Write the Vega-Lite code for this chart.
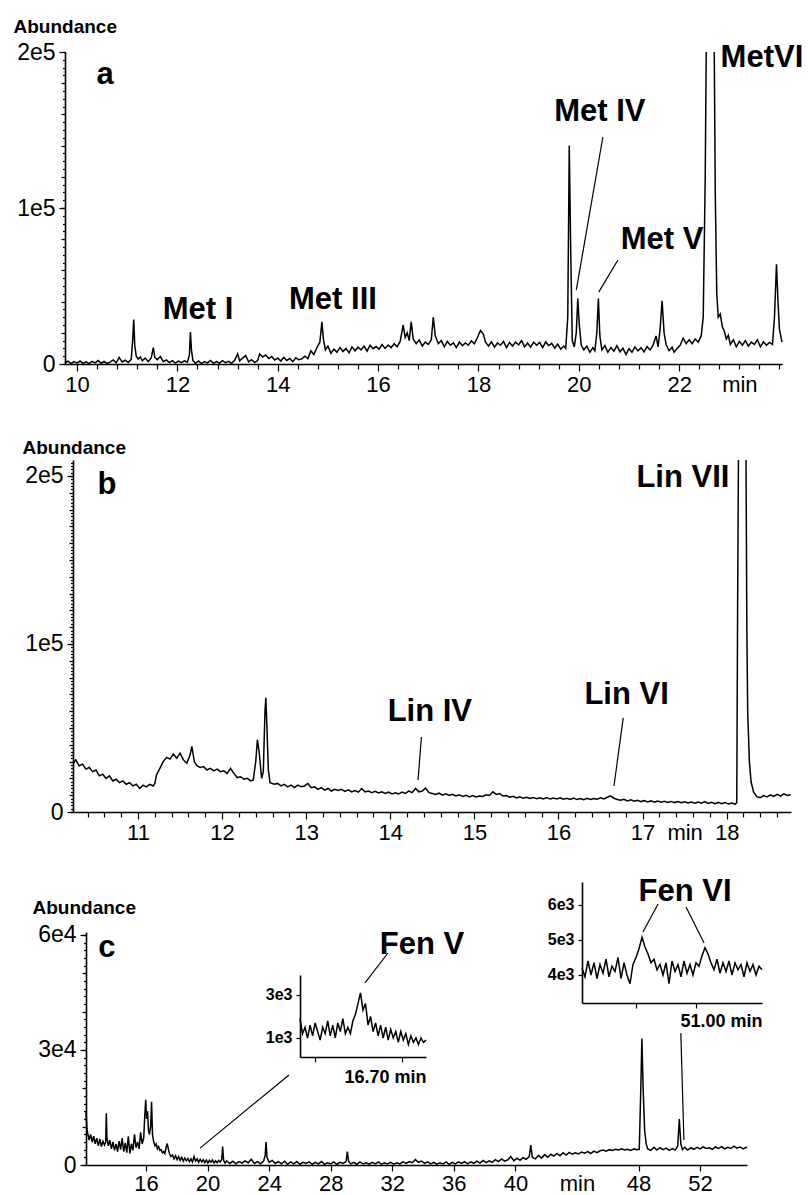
{
"$schema": "https://vega.github.io/schema/vega-lite/v6.json",
"width": 808, "height": 1195,
"autosize": {"type": "none"},
"padding": 0,
"background": "white",
"config": {
 "view": {"stroke": null},
 "axis": {"grid": false, "domainColor": "black", "tickColor": "black", "labelColor": "black", "titleColor": "black", "labelFont": "Liberation Sans", "titleFont": "Liberation Sans", "domainWidth": 1.6, "tickWidth": 1.2},
 "text": {"font": "Liberation Sans", "fontWeight": "bold", "fontSize": 31, "color": "black"},
 "line": {"color": "black", "strokeWidth": 1.5},
 "rule": {"color": "black", "strokeWidth": 1.2}
},
"resolve": {"scale": {"x": "independent", "y": "independent"}, "axis": {"x": "independent", "y": "independent"}},
"datasets": {
 "a_trace": [
  {"time":9.76,"signal":800},{"time":9.82,"signal":1800},{"time":9.88,"signal":300},{"time":9.94,"signal":1500},{"time":10.0,"signal":600},{"time":10.06,"signal":1900},{"time":10.12,"signal":400},{"time":10.18,"signal":1400},{"time":10.24,"signal":200},{"time":10.3,"signal":1700},{"time":10.36,"signal":700},{"time":10.42,"signal":2200},{"time":10.48,"signal":500},{"time":10.54,"signal":1600},{"time":10.6,"signal":300},{"time":10.66,"signal":1200},{"time":10.72,"signal":2600},{"time":10.78,"signal":800},{"time":10.84,"signal":4200},{"time":10.9,"signal":1300},{"time":10.96,"signal":2400},{"time":11.02,"signal":900},{"time":11.08,"signal":3000},{"time":11.11,"signal":16000},{"time":11.13,"signal":28500},{"time":11.15,"signal":12000},{"time":11.18,"signal":5000},{"time":11.22,"signal":3200},{"time":11.26,"signal":4500},{"time":11.3,"signal":2000},{"time":11.36,"signal":3800},{"time":11.42,"signal":1500},{"time":11.48,"signal":4000},{"time":11.52,"signal":10500},{"time":11.55,"signal":4200},{"time":11.6,"signal":2800},{"time":11.66,"signal":4800},{"time":11.72,"signal":1500},{"time":11.78,"signal":2600},{"time":11.84,"signal":900},{"time":11.9,"signal":2200},{"time":11.96,"signal":600},{"time":12.02,"signal":1800},{"time":12.08,"signal":800},{"time":12.14,"signal":2000},{"time":12.2,"signal":1100},{"time":12.24,"signal":6000},{"time":12.26,"signal":20500},{"time":12.28,"signal":9000},{"time":12.31,"signal":2200},{"time":12.36,"signal":500},{"time":12.42,"signal":2000},{"time":12.48,"signal":300},{"time":12.54,"signal":1600},{"time":12.6,"signal":700},{"time":12.66,"signal":2300},{"time":12.72,"signal":400},{"time":12.78,"signal":1500},{"time":12.84,"signal":600},{"time":12.9,"signal":2100},{"time":12.96,"signal":800},{"time":13.02,"signal":1700},{"time":13.08,"signal":500},{"time":13.14,"signal":2400},{"time":13.2,"signal":6500},{"time":13.24,"signal":2000},{"time":13.3,"signal":3800},{"time":13.36,"signal":5500},{"time":13.42,"signal":1400},{"time":13.48,"signal":2800},{"time":13.54,"signal":1000},{"time":13.6,"signal":2200},{"time":13.64,"signal":6500},{"time":13.7,"signal":4500},{"time":13.76,"signal":5800},{"time":13.82,"signal":3500},{"time":13.88,"signal":4800},{"time":13.94,"signal":2500},{"time":14.0,"signal":3800},{"time":14.06,"signal":1900},{"time":14.12,"signal":4200},{"time":14.18,"signal":2300},{"time":14.24,"signal":3600},{"time":14.3,"signal":1500},{"time":14.36,"signal":4000},{"time":14.42,"signal":2700},{"time":14.48,"signal":3300},{"time":14.54,"signal":5000},{"time":14.6,"signal":3400},{"time":14.66,"signal":8500},{"time":14.72,"signal":6000},{"time":14.78,"signal":10500},{"time":14.84,"signal":14000},{"time":14.88,"signal":27000},{"time":14.91,"signal":16000},{"time":14.95,"signal":9000},{"time":15.0,"signal":11500},{"time":15.06,"signal":6800},{"time":15.12,"signal":9500},{"time":15.18,"signal":7500},{"time":15.24,"signal":10500},{"time":15.3,"signal":8000},{"time":15.36,"signal":10000},{"time":15.42,"signal":7200},{"time":15.48,"signal":11000},{"time":15.54,"signal":8500},{"time":15.6,"signal":10800},{"time":15.66,"signal":9000},{"time":15.72,"signal":11500},{"time":15.78,"signal":8200},{"time":15.84,"signal":12000},{"time":15.9,"signal":9800},{"time":15.96,"signal":11200},{"time":16.02,"signal":9500},{"time":16.08,"signal":12500},{"time":16.14,"signal":10000},{"time":16.2,"signal":12200},{"time":16.26,"signal":10500},{"time":16.32,"signal":13000},{"time":16.38,"signal":11000},{"time":16.44,"signal":14500},{"time":16.5,"signal":25000},{"time":16.54,"signal":17000},{"time":16.58,"signal":20000},{"time":16.62,"signal":15000},{"time":16.66,"signal":27000},{"time":16.7,"signal":16000},{"time":16.76,"signal":13000},{"time":16.82,"signal":15500},{"time":16.88,"signal":11500},{"time":16.94,"signal":14000},{"time":17.0,"signal":12500},{"time":17.06,"signal":15500},{"time":17.1,"signal":30000},{"time":17.14,"signal":18000},{"time":17.2,"signal":13000},{"time":17.26,"signal":15000},{"time":17.32,"signal":11000},{"time":17.38,"signal":14500},{"time":17.44,"signal":12000},{"time":17.5,"signal":13500},{"time":17.56,"signal":10500},{"time":17.62,"signal":14000},{"time":17.68,"signal":11800},{"time":17.74,"signal":13500},{"time":17.8,"signal":12000},{"time":17.86,"signal":14800},{"time":17.92,"signal":13000},{"time":17.98,"signal":17000},{"time":18.04,"signal":21500},{"time":18.1,"signal":19000},{"time":18.14,"signal":14000},{"time":18.2,"signal":11500},{"time":18.26,"signal":14200},{"time":18.32,"signal":10800},{"time":18.38,"signal":13500},{"time":18.44,"signal":12000},{"time":18.5,"signal":14500},{"time":18.56,"signal":10500},{"time":18.62,"signal":13800},{"time":18.68,"signal":11500},{"time":18.74,"signal":14000},{"time":18.8,"signal":12200},{"time":18.86,"signal":15000},{"time":18.92,"signal":11000},{"time":18.98,"signal":13500},{"time":19.04,"signal":10800},{"time":19.1,"signal":14000},{"time":19.16,"signal":12000},{"time":19.22,"signal":13800},{"time":19.28,"signal":10500},{"time":19.34,"signal":14200},{"time":19.4,"signal":11800},{"time":19.46,"signal":13200},{"time":19.52,"signal":10200},{"time":19.58,"signal":12800},{"time":19.64,"signal":9500},{"time":19.7,"signal":11500},{"time":19.74,"signal":10000},{"time":19.78,"signal":30000},{"time":19.81,"signal":140000},{"time":19.84,"signal":70000},{"time":19.87,"signal":15000},{"time":19.91,"signal":11000},{"time":19.95,"signal":20000},{"time":19.98,"signal":42000},{"time":20.01,"signal":25000},{"time":20.05,"signal":12000},{"time":20.1,"signal":9000},{"time":20.16,"signal":11500},{"time":20.22,"signal":7500},{"time":20.28,"signal":10500},{"time":20.32,"signal":8500},{"time":20.36,"signal":20000},{"time":20.39,"signal":42000},{"time":20.42,"signal":18000},{"time":20.46,"signal":9000},{"time":20.52,"signal":11800},{"time":20.58,"signal":7500},{"time":20.64,"signal":10500},{"time":20.7,"signal":8200},{"time":20.76,"signal":11800},{"time":20.82,"signal":7800},{"time":20.88,"signal":10200},{"time":20.94,"signal":6000},{"time":21.0,"signal":9800},{"time":21.06,"signal":7500},{"time":21.12,"signal":11000},{"time":21.18,"signal":8400},{"time":21.24,"signal":10500},{"time":21.3,"signal":7800},{"time":21.36,"signal":11200},{"time":21.42,"signal":9000},{"time":21.48,"signal":12000},{"time":21.54,"signal":18000},{"time":21.58,"signal":11000},{"time":21.62,"signal":22000},{"time":21.66,"signal":40500},{"time":21.7,"signal":20000},{"time":21.74,"signal":12500},{"time":21.8,"signal":8500},{"time":21.86,"signal":10800},{"time":21.9,"signal":7500},{"time":21.96,"signal":10000},{"time":22.02,"signal":12000},{"time":22.08,"signal":16500},{"time":22.14,"signal":13000},{"time":22.2,"signal":15500},{"time":22.26,"signal":13000},{"time":22.32,"signal":16000},{"time":22.38,"signal":14000},{"time":22.44,"signal":18000},{"time":22.48,"signal":30000},{"time":22.52,"signal":120000},{"time":22.54,"signal":200000},{"time":22.62,"signal":null},{"time":22.7,"signal":200000},{"time":22.72,"signal":110000},{"time":22.75,"signal":45000},{"time":22.78,"signal":30000},{"time":22.82,"signal":32000},{"time":22.86,"signal":24000},{"time":22.9,"signal":21000},{"time":22.94,"signal":16000},{"time":22.98,"signal":18500},{"time":23.02,"signal":12500},{"time":23.08,"signal":15500},{"time":23.14,"signal":11000},{"time":23.2,"signal":14500},{"time":23.26,"signal":12000},{"time":23.32,"signal":15000},{"time":23.38,"signal":11500},{"time":23.44,"signal":14000},{"time":23.5,"signal":12500},{"time":23.56,"signal":15500},{"time":23.62,"signal":11000},{"time":23.68,"signal":14200},{"time":23.74,"signal":12000},{"time":23.8,"signal":13800},{"time":23.86,"signal":12500},{"time":23.9,"signal":30000},{"time":23.94,"signal":64000},{"time":23.97,"signal":40000},{"time":24.0,"signal":22000},{"time":24.05,"signal":14000}
 ],
 "a_labels": [
  {"time":10.56,"signal":185000,"label":"a"},{"time":12.41,"signal":34600,"label":"Met I"},{"time":15.1,"signal":41000,"label":"Met III"},{"time":20.42,"signal":161500,"label":"Met IV"},{"time":21.66,"signal":79500,"label":"Met V"},{"time":23.65,"signal":196000,"label":"MetVI"}
 ],
 "a_leaders": [
  {"time":20.48,"signal":145500,"time2":19.95,"signal2":47400},{"time":20.78,"signal":66700,"time2":20.4,"signal2":46200}
 ],
 "b_trace": [
  {"time":10.23,"signal":29000},{"time":10.26,"signal":31000},{"time":10.3,"signal":27500},{"time":10.34,"signal":28500},{"time":10.38,"signal":25500},{"time":10.42,"signal":26500},{"time":10.46,"signal":24000},{"time":10.5,"signal":25000},{"time":10.54,"signal":21500},{"time":10.58,"signal":22500},{"time":10.62,"signal":20000},{"time":10.66,"signal":21500},{"time":10.7,"signal":18500},{"time":10.74,"signal":19500},{"time":10.78,"signal":17500},{"time":10.82,"signal":18500},{"time":10.86,"signal":16500},{"time":10.9,"signal":17500},{"time":10.94,"signal":15500},{"time":10.98,"signal":16500},{"time":11.02,"signal":14000},{"time":11.06,"signal":16000},{"time":11.1,"signal":15000},{"time":11.14,"signal":16500},{"time":11.18,"signal":15500},{"time":11.2,"signal":17000},{"time":11.22,"signal":22000},{"time":11.26,"signal":26000},{"time":11.3,"signal":30000},{"time":11.34,"signal":32500},{"time":11.38,"signal":31500},{"time":11.42,"signal":34500},{"time":11.46,"signal":32000},{"time":11.5,"signal":35000},{"time":11.54,"signal":31000},{"time":11.58,"signal":29000},{"time":11.62,"signal":34000},{"time":11.64,"signal":39000},{"time":11.67,"signal":30000},{"time":11.7,"signal":27500},{"time":11.74,"signal":26500},{"time":11.78,"signal":27000},{"time":11.82,"signal":25000},{"time":11.86,"signal":26000},{"time":11.9,"signal":24500},{"time":11.94,"signal":25500},{"time":11.98,"signal":24000},{"time":12.02,"signal":24500},{"time":12.06,"signal":23000},{"time":12.1,"signal":26000},{"time":12.14,"signal":23000},{"time":12.18,"signal":20500},{"time":12.22,"signal":21000},{"time":12.26,"signal":19500},{"time":12.3,"signal":20000},{"time":12.34,"signal":18500},{"time":12.37,"signal":19000},{"time":12.4,"signal":30000},{"time":12.42,"signal":43000},{"time":12.44,"signal":36000},{"time":12.47,"signal":20000},{"time":12.49,"signal":24000},{"time":12.51,"signal":60000},{"time":12.52,"signal":68000},{"time":12.53,"signal":55000},{"time":12.55,"signal":25000},{"time":12.57,"signal":17500},{"time":12.62,"signal":16500},{"time":12.66,"signal":17000},{"time":12.7,"signal":15500},{"time":12.74,"signal":16500},{"time":12.78,"signal":15000},{"time":12.82,"signal":16000},{"time":12.86,"signal":14500},{"time":12.9,"signal":16000},{"time":12.94,"signal":15000},{"time":12.98,"signal":15500},{"time":13.02,"signal":17000},{"time":13.06,"signal":14500},{"time":13.1,"signal":15000},{"time":13.14,"signal":13500},{"time":13.18,"signal":14500},{"time":13.22,"signal":13000},{"time":13.26,"signal":14000},{"time":13.3,"signal":12500},{"time":13.34,"signal":13500},{"time":13.38,"signal":12800},{"time":13.42,"signal":13500},{"time":13.46,"signal":12300},{"time":13.5,"signal":13200},{"time":13.54,"signal":12000},{"time":13.58,"signal":12800},{"time":13.62,"signal":11800},{"time":13.66,"signal":14000},{"time":13.7,"signal":12000},{"time":13.74,"signal":12500},{"time":13.78,"signal":11500},{"time":13.82,"signal":12300},{"time":13.86,"signal":11300},{"time":13.9,"signal":12000},{"time":13.94,"signal":11000},{"time":13.98,"signal":11800},{"time":14.02,"signal":10800},{"time":14.06,"signal":11500},{"time":14.1,"signal":10800},{"time":14.14,"signal":11800},{"time":14.18,"signal":11000},{"time":14.22,"signal":12500},{"time":14.26,"signal":11500},{"time":14.3,"signal":14000},{"time":14.34,"signal":12000},{"time":14.38,"signal":12500},{"time":14.42,"signal":14200},{"time":14.46,"signal":11500},{"time":14.5,"signal":11000},{"time":14.54,"signal":10500},{"time":14.58,"signal":11200},{"time":14.62,"signal":10000},{"time":14.66,"signal":10800},{"time":14.7,"signal":9800},{"time":14.74,"signal":10500},{"time":14.78,"signal":9500},{"time":14.82,"signal":10200},{"time":14.86,"signal":9300},{"time":14.9,"signal":10000},{"time":14.94,"signal":9000},{"time":14.98,"signal":9800},{"time":15.02,"signal":9000},{"time":15.06,"signal":9500},{"time":15.1,"signal":9200},{"time":15.14,"signal":10200},{"time":15.18,"signal":9800},{"time":15.22,"signal":12000},{"time":15.26,"signal":10500},{"time":15.3,"signal":11000},{"time":15.34,"signal":9500},{"time":15.38,"signal":9800},{"time":15.42,"signal":8800},{"time":15.46,"signal":9300},{"time":15.5,"signal":8400},{"time":15.54,"signal":9000},{"time":15.58,"signal":8200},{"time":15.62,"signal":8800},{"time":15.66,"signal":8000},{"time":15.7,"signal":8600},{"time":15.74,"signal":7900},{"time":15.78,"signal":8500},{"time":15.82,"signal":7800},{"time":15.86,"signal":8600},{"time":15.9,"signal":7700},{"time":15.94,"signal":8300},{"time":15.98,"signal":7800},{"time":16.02,"signal":8500},{"time":16.06,"signal":7600},{"time":16.1,"signal":8200},{"time":16.14,"signal":7500},{"time":16.18,"signal":8300},{"time":16.22,"signal":7400},{"time":16.26,"signal":8000},{"time":16.3,"signal":7300},{"time":16.34,"signal":8200},{"time":16.38,"signal":7500},{"time":16.42,"signal":8000},{"time":16.46,"signal":7600},{"time":16.5,"signal":8400},{"time":16.54,"signal":7800},{"time":16.58,"signal":8800},{"time":16.62,"signal":9600},{"time":16.66,"signal":8200},{"time":16.7,"signal":7400},{"time":16.74,"signal":7000},{"time":16.78,"signal":7600},{"time":16.82,"signal":6600},{"time":16.86,"signal":7200},{"time":16.9,"signal":6400},{"time":16.94,"signal":7000},{"time":16.98,"signal":6200},{"time":17.02,"signal":6800},{"time":17.06,"signal":6000},{"time":17.1,"signal":6600},{"time":17.14,"signal":5900},{"time":17.18,"signal":6500},{"time":17.22,"signal":5800},{"time":17.26,"signal":6400},{"time":17.3,"signal":5700},{"time":17.34,"signal":6300},{"time":17.38,"signal":5600},{"time":17.42,"signal":6200},{"time":17.46,"signal":5500},{"time":17.5,"signal":6100},{"time":17.54,"signal":5400},{"time":17.58,"signal":6000},{"time":17.62,"signal":5300},{"time":17.66,"signal":5900},{"time":17.7,"signal":5200},{"time":17.74,"signal":6200},{"time":17.78,"signal":5100},{"time":17.82,"signal":5800},{"time":17.86,"signal":5000},{"time":17.9,"signal":5700},{"time":17.94,"signal":4900},{"time":17.98,"signal":5600},{"time":18.02,"signal":4800},{"time":18.06,"signal":5400},{"time":18.1,"signal":4600},{"time":18.12,"signal":5500},{"time":18.13,"signal":120000},{"time":18.14,"signal":209500},{"time":18.18,"signal":null},{"time":18.23,"signal":209500},{"time":18.24,"signal":110000},{"time":18.25,"signal":60000},{"time":18.27,"signal":30000},{"time":18.29,"signal":18000},{"time":18.32,"signal":12000},{"time":18.36,"signal":9000},{"time":18.4,"signal":8500},{"time":18.44,"signal":9800},{"time":18.48,"signal":9000},{"time":18.52,"signal":10200},{"time":18.56,"signal":9300},{"time":18.6,"signal":10500},{"time":18.64,"signal":9500},{"time":18.68,"signal":10800},{"time":18.72,"signal":9800},{"time":18.76,"signal":10300}
 ],
 "b_labels": [
  {"time":10.63,"signal":194600,"label":"b"},{"time":17.48,"signal":198800,"label":"Lin VII"},{"time":14.47,"signal":59500,"label":"Lin IV"},{"time":16.81,"signal":69600,"label":"Lin VI"}
 ],
 "b_leaders": [
  {"time":14.37,"signal":44600,"time2":14.33,"signal2":19000},{"time":16.77,"signal":56000,"time2":16.66,"signal2":15500}
 ],
 "c_trace": [
  {"time":12.1,"signal":14000},{"time":12.15,"signal":10000},{"time":12.2,"signal":8500},{"time":12.3,"signal":6500},{"time":12.4,"signal":8000},{"time":12.5,"signal":6000},{"time":12.6,"signal":7500},{"time":12.7,"signal":5500},{"time":12.8,"signal":7000},{"time":12.9,"signal":5000},{"time":13.0,"signal":6800},{"time":13.1,"signal":4800},{"time":13.2,"signal":6200},{"time":13.3,"signal":5200},{"time":13.38,"signal":6000},{"time":13.42,"signal":13500},{"time":13.46,"signal":7000},{"time":13.55,"signal":5000},{"time":13.65,"signal":6500},{"time":13.75,"signal":4200},{"time":13.85,"signal":6000},{"time":13.95,"signal":3800},{"time":14.05,"signal":5500},{"time":14.15,"signal":3500},{"time":14.25,"signal":6200},{"time":14.35,"signal":4000},{"time":14.45,"signal":7000},{"time":14.55,"signal":3500},{"time":14.65,"signal":5800},{"time":14.75,"signal":3200},{"time":14.85,"signal":7500},{"time":14.95,"signal":3000},{"time":15.05,"signal":5500},{"time":15.15,"signal":3800},{"time":15.25,"signal":8000},{"time":15.35,"signal":4500},{"time":15.45,"signal":6000},{"time":15.55,"signal":4200},{"time":15.65,"signal":8500},{"time":15.75,"signal":5500},{"time":15.85,"signal":7000},{"time":15.92,"signal":13000},{"time":15.98,"signal":17000},{"time":16.04,"signal":12000},{"time":16.1,"signal":14000},{"time":16.16,"signal":9000},{"time":16.22,"signal":8000},{"time":16.3,"signal":10000},{"time":16.36,"signal":16500},{"time":16.42,"signal":8000},{"time":16.5,"signal":6000},{"time":16.58,"signal":5000},{"time":16.66,"signal":5500},{"time":16.74,"signal":4200},{"time":16.82,"signal":4800},{"time":16.9,"signal":3800},{"time":16.98,"signal":4000},{"time":17.06,"signal":3200},{"time":17.14,"signal":3500},{"time":17.22,"signal":3000},{"time":17.3,"signal":4500},{"time":17.38,"signal":5600},{"time":17.46,"signal":4000},{"time":17.54,"signal":2800},{"time":17.62,"signal":2200},{"time":17.72,"signal":2600},{"time":17.82,"signal":1600},{"time":17.92,"signal":2400},{"time":18.02,"signal":1400},{"time":18.12,"signal":2200},{"time":18.22,"signal":1200},{"time":18.32,"signal":2000},{"time":18.42,"signal":1000},{"time":18.52,"signal":1800},{"time":18.62,"signal":1100},{"time":18.72,"signal":1700},{"time":18.82,"signal":900},{"time":18.92,"signal":1600},{"time":19.02,"signal":800},{"time":19.12,"signal":2200},{"time":19.22,"signal":1000},{"time":19.32,"signal":1600},{"time":19.42,"signal":700},{"time":19.52,"signal":1500},{"time":19.62,"signal":800},{"time":19.72,"signal":1400},{"time":19.82,"signal":600},{"time":19.92,"signal":1300},{"time":20.02,"signal":500},{"time":20.12,"signal":1200},{"time":20.22,"signal":700},{"time":20.32,"signal":1300},{"time":20.42,"signal":500},{"time":20.52,"signal":1100},{"time":20.62,"signal":600},{"time":20.72,"signal":1200},{"time":20.82,"signal":800},{"time":20.92,"signal":1500},{"time":20.98,"signal":4800},{"time":21.04,"signal":1200},{"time":21.14,"signal":500},{"time":21.24,"signal":1100},{"time":21.44,"signal":400},{"time":21.64,"signal":1000},{"time":21.84,"signal":300},{"time":22.04,"signal":900},{"time":22.24,"signal":500},{"time":22.44,"signal":1100},{"time":22.64,"signal":600},{"time":22.84,"signal":1500},{"time":23.04,"signal":400},{"time":23.24,"signal":900},{"time":23.44,"signal":300},{"time":23.64,"signal":1000},{"time":23.74,"signal":2500},{"time":23.8,"signal":6000},{"time":23.86,"signal":2000},{"time":24.0,"signal":700},{"time":24.2,"signal":1200},{"time":24.4,"signal":400},{"time":24.6,"signal":900},{"time":24.8,"signal":300},{"time":25.0,"signal":1000},{"time":25.2,"signal":200},{"time":25.4,"signal":800},{"time":25.6,"signal":300},{"time":25.8,"signal":900},{"time":26.0,"signal":200},{"time":26.2,"signal":700},{"time":26.4,"signal":400},{"time":26.6,"signal":800},{"time":26.8,"signal":200},{"time":27.0,"signal":700},{"time":27.2,"signal":300},{"time":27.4,"signal":900},{"time":27.6,"signal":200},{"time":27.8,"signal":600},{"time":28.0,"signal":300},{"time":28.2,"signal":800},{"time":28.4,"signal":200},{"time":28.6,"signal":700},{"time":28.8,"signal":400},{"time":29.0,"signal":900},{"time":29.08,"signal":3500},{"time":29.16,"signal":1000},{"time":29.3,"signal":300},{"time":29.5,"signal":700},{"time":29.7,"signal":200},{"time":29.9,"signal":800},{"time":30.1,"signal":300},{"time":30.3,"signal":600},{"time":30.5,"signal":200},{"time":30.7,"signal":700},{"time":30.9,"signal":300},{"time":31.1,"signal":800},{"time":31.3,"signal":200},{"time":31.5,"signal":600},{"time":31.7,"signal":300},{"time":31.9,"signal":700},{"time":32.1,"signal":200},{"time":32.3,"signal":600},{"time":32.5,"signal":300},{"time":32.7,"signal":800},{"time":32.9,"signal":400},{"time":33.1,"signal":900},{"time":33.3,"signal":600},{"time":33.5,"signal":1400},{"time":33.7,"signal":700},{"time":33.9,"signal":1000},{"time":34.1,"signal":400},{"time":34.3,"signal":800},{"time":34.5,"signal":300},{"time":34.7,"signal":700},{"time":34.9,"signal":200},{"time":35.1,"signal":600},{"time":35.3,"signal":300},{"time":35.5,"signal":800},{"time":35.7,"signal":200},{"time":35.9,"signal":700},{"time":36.1,"signal":300},{"time":36.3,"signal":800},{"time":36.5,"signal":400},{"time":36.7,"signal":900},{"time":36.9,"signal":300},{"time":37.1,"signal":800},{"time":37.3,"signal":400},{"time":37.5,"signal":1000},{"time":37.7,"signal":500},{"time":37.9,"signal":1200},{"time":38.1,"signal":600},{"time":38.3,"signal":1100},{"time":38.5,"signal":700},{"time":38.7,"signal":1400},{"time":38.9,"signal":900},{"time":39.1,"signal":1600},{"time":39.3,"signal":1000},{"time":39.5,"signal":1300},{"time":39.7,"signal":2200},{"time":39.9,"signal":1100},{"time":40.1,"signal":1800},{"time":40.3,"signal":1200},{"time":40.5,"signal":1900},{"time":40.7,"signal":1500},{"time":40.9,"signal":2200},{"time":41.0,"signal":5200},{"time":41.1,"signal":2000},{"time":41.3,"signal":1600},{"time":41.5,"signal":2500},{"time":41.7,"signal":1800},{"time":41.9,"signal":2700},{"time":42.1,"signal":2000},{"time":42.3,"signal":2800},{"time":42.5,"signal":2300},{"time":42.7,"signal":3000},{"time":42.9,"signal":2400},{"time":43.1,"signal":3200},{"time":43.3,"signal":2600},{"time":43.5,"signal":3300},{"time":43.7,"signal":2800},{"time":43.9,"signal":3200},{"time":44.1,"signal":2900},{"time":44.3,"signal":3400},{"time":44.5,"signal":3100},{"time":44.7,"signal":3500},{"time":44.9,"signal":3000},{"time":45.1,"signal":3600},{"time":45.3,"signal":3200},{"time":45.5,"signal":3700},{"time":45.7,"signal":3900},{"time":45.9,"signal":3600},{"time":46.1,"signal":4000},{"time":46.3,"signal":3800},{"time":46.5,"signal":4100},{"time":46.7,"signal":3900},{"time":46.9,"signal":4200},{"time":47.1,"signal":3900},{"time":47.3,"signal":4100},{"time":47.5,"signal":3800},{"time":47.7,"signal":4200},{"time":47.9,"signal":4000},{"time":48.05,"signal":4100},{"time":48.15,"signal":20000},{"time":48.22,"signal":33000},{"time":48.3,"signal":20000},{"time":48.4,"signal":9000},{"time":48.5,"signal":5500},{"time":48.6,"signal":4200},{"time":48.8,"signal":3800},{"time":49.0,"signal":4600},{"time":49.2,"signal":3900},{"time":49.4,"signal":4500},{"time":49.6,"signal":4000},{"time":49.8,"signal":4400},{"time":50.0,"signal":3800},{"time":50.2,"signal":4300},{"time":50.4,"signal":3900},{"time":50.55,"signal":5000},{"time":50.65,"signal":12000},{"time":50.75,"signal":5500},{"time":50.85,"signal":4000},{"time":51.0,"signal":4600},{"time":51.2,"signal":3900},{"time":51.4,"signal":4500},{"time":51.6,"signal":4100},{"time":51.8,"signal":4600},{"time":52.0,"signal":4200},{"time":52.2,"signal":4700},{"time":52.4,"signal":4300},{"time":52.6,"signal":4500},{"time":52.8,"signal":4100},{"time":53.0,"signal":4700},{"time":53.2,"signal":4300},{"time":53.4,"signal":4800},{"time":53.6,"signal":4200},{"time":53.8,"signal":4600},{"time":54.0,"signal":4300},{"time":54.2,"signal":4900},{"time":54.4,"signal":4400},{"time":54.6,"signal":4700},{"time":54.8,"signal":4200},{"time":55.0,"signal":4600},{"time":55.05,"signal":4500}
 ],
 "c_labels": [
  {"time":13.46,"signal":56600,"label":"c"},{"time":33.93,"signal":57400,"label":"Fen V"},{"time":51.02,"signal":71200,"label":"Fen VI"}
 ],
 "c_leaders": [
  {"time":25.29,"signal":23500,"time2":19.51,"signal2":4400},{"time":31.72,"signal":55300,"time2":30.23,"signal2":47500},{"time":49.27,"signal":68100,"time2":48.29,"signal2":60800},{"time":51.09,"signal":67300,"time2":52.26,"signal2":57900},{"time":50.75,"signal":34400,"time2":50.95,"signal2":6500}
 ],
 "c_inset1": [
  {"time":16.22,"signal":1900},{"time":16.24,"signal":1200},{"time":16.26,"signal":1500},{"time":16.28,"signal":1000},{"time":16.3,"signal":1600},{"time":16.32,"signal":1100},{"time":16.34,"signal":1700},{"time":16.36,"signal":1300},{"time":16.38,"signal":900},{"time":16.4,"signal":1500},{"time":16.42,"signal":1200},{"time":16.44,"signal":1800},{"time":16.46,"signal":1100},{"time":16.48,"signal":1600},{"time":16.5,"signal":1000},{"time":16.52,"signal":1700},{"time":16.54,"signal":1300},{"time":16.56,"signal":1900},{"time":16.58,"signal":1200},{"time":16.6,"signal":1500},{"time":16.62,"signal":1200},{"time":16.64,"signal":1800},{"time":16.66,"signal":2100},{"time":16.68,"signal":2600},{"time":16.7,"signal":3100},{"time":16.72,"signal":2300},{"time":16.74,"signal":2600},{"time":16.76,"signal":1600},{"time":16.78,"signal":2000},{"time":16.8,"signal":1300},{"time":16.82,"signal":1700},{"time":16.84,"signal":1100},{"time":16.86,"signal":1600},{"time":16.88,"signal":1000},{"time":16.9,"signal":1500},{"time":16.92,"signal":900},{"time":16.94,"signal":1400},{"time":16.96,"signal":1000},{"time":16.98,"signal":1300},{"time":17.0,"signal":800},{"time":17.02,"signal":1300},{"time":17.04,"signal":900},{"time":17.06,"signal":1200},{"time":17.08,"signal":700},{"time":17.1,"signal":1100},{"time":17.12,"signal":800},{"time":17.14,"signal":1000},{"time":17.16,"signal":700},{"time":17.18,"signal":1000},{"time":17.2,"signal":800},{"time":17.22,"signal":900}
 ],
 "c_inset2": [
  {"time":50.62,"signal":4200},{"time":50.63,"signal":3950},{"time":50.64,"signal":4400},{"time":50.65,"signal":4000},{"time":50.66,"signal":4350},{"time":50.67,"signal":3900},{"time":50.68,"signal":4300},{"time":50.69,"signal":4050},{"time":50.7,"signal":4450},{"time":50.71,"signal":3950},{"time":50.72,"signal":4250},{"time":50.73,"signal":4100},{"time":50.74,"signal":4500},{"time":50.75,"signal":3900},{"time":50.76,"signal":4350},{"time":50.77,"signal":4000},{"time":50.78,"signal":3750},{"time":50.79,"signal":4300},{"time":50.8,"signal":4500},{"time":50.81,"signal":4750},{"time":50.82,"signal":5080},{"time":50.83,"signal":4800},{"time":50.84,"signal":4600},{"time":50.85,"signal":4350},{"time":50.86,"signal":4450},{"time":50.87,"signal":4150},{"time":50.88,"signal":4300},{"time":50.89,"signal":4000},{"time":50.9,"signal":4350},{"time":50.91,"signal":3750},{"time":50.92,"signal":4400},{"time":50.93,"signal":4100},{"time":50.94,"signal":4300},{"time":50.95,"signal":3950},{"time":50.96,"signal":4400},{"time":50.97,"signal":4050},{"time":50.98,"signal":4300},{"time":50.99,"signal":4000},{"time":51.0,"signal":4350},{"time":51.01,"signal":4250},{"time":51.02,"signal":4550},{"time":51.03,"signal":4780},{"time":51.04,"signal":4600},{"time":51.05,"signal":4350},{"time":51.06,"signal":4150},{"time":51.07,"signal":4450},{"time":51.08,"signal":4050},{"time":51.09,"signal":4350},{"time":51.1,"signal":4100},{"time":51.11,"signal":4400},{"time":51.12,"signal":4000},{"time":51.13,"signal":4350},{"time":51.14,"signal":4150},{"time":51.15,"signal":4300},{"time":51.16,"signal":3950},{"time":51.17,"signal":4350},{"time":51.18,"signal":4100},{"time":51.19,"signal":4300},{"time":51.2,"signal":4000},{"time":51.21,"signal":4250},{"time":51.22,"signal":4150}
 ]
},
"layer": [
 {"data": {"name": "a_trace"}, "mark": {"type": "line", "invalid": "break-paths-show-domains"},
  "encoding": {
   "x": {"field": "time", "type": "quantitative", "scale": {"domain": [9.76, 24.05], "range": [65, 782], "nice": false, "zero": false},
     "axis": {"orient": "bottom", "offset": -831, "values": [10,12,14,16,18,20,22,23.2], "labelExpr": "datum.value == 23.2 ? 'min' : datum.label", "tickSize": 7, "tickOpacity": {"condition": {"test": "datum.value == 23.2", "value": 0}, "value": 1}, "labelFontSize": 22, "labelPadding": 3, "title": null}},
   "y": {"field": "signal", "type": "quantitative", "scale": {"domain": [0, 200000], "range": [364, 52], "nice": false, "zero": false},
     "axis": {"orient": "left", "offset": -65, "values": [0,100000,200000], "labelExpr": "datum.value == 0 ? '0' : datum.value == 100000 ? '1e5' : '2e5'", "tickSize": 6, "labelFontSize": 23, "labelPadding": 4, "title": "Abundance", "titleAngle": 0, "titleX": -52, "titleY": 26, "titleAlign": "left", "titleBaseline": "middle", "titleFontSize": 19, "titleFontWeight": "bold"}}
  }},
 {"data": {"name": "a_labels"}, "mark": {"type": "text", "align": "center", "baseline": "middle"},
  "encoding": {
   "x": {"field": "time", "type": "quantitative", "scale": {"domain": [9.76, 24.05], "range": [65, 782], "nice": false, "zero": false},
     "axis": {"orient": "bottom", "offset": -831, "values": [10.4,10.8,11.2,11.6,12.4,12.8,13.2,13.6,14.4,14.8,15.2,15.6,16.4,16.8,17.2,17.6,18.4,18.8,19.2,19.6,20.4,20.8,21.2,21.6,22.4,22.8,23.2,23.6,24.0], "labels": false, "domain": false, "tickSize": 5, "title": null}},
   "y": {"field": "signal", "type": "quantitative", "scale": {"domain": [0, 200000], "range": [364, 52], "nice": false, "zero": false},
     "axis": {"orient": "left", "offset": -65, "tickCount": 10, "labels": false, "domain": false, "tickSize": 4, "title": null}},
   "text": {"field": "label", "type": "nominal"}
  }},
 {"data": {"name": "a_leaders"}, "mark": {"type": "rule"},
  "encoding": {
   "x": {"field": "time", "type": "quantitative", "scale": {"domain": [9.76, 24.05], "range": [65, 782], "nice": false, "zero": false}, "axis": null},
   "y": {"field": "signal", "type": "quantitative", "scale": {"domain": [0, 200000], "range": [364, 52], "nice": false, "zero": false},
     "axis": {"orient": "left", "offset": -65, "tickCount": 40, "labels": false, "domain": false, "tickSize": 2.5, "title": null}},
   "x2": {"field": "time2"}, "y2": {"field": "signal2"}
  }},

 {"data": {"name": "b_trace"}, "mark": {"type": "line", "invalid": "break-paths-show-domains"},
  "encoding": {
   "x": {"field": "time", "type": "quantitative", "scale": {"domain": [10.227, 18.765], "range": [73, 791], "nice": false, "zero": false},
     "axis": {"orient": "bottom", "offset": -383, "values": [11,12,13,14,15,16,17,17.5,18], "labelExpr": "datum.value == 17.5 ? 'min' : datum.label", "tickSize": 7, "tickOpacity": {"condition": {"test": "datum.value == 17.5", "value": 0}, "value": 1}, "labelFontSize": 22, "labelPadding": 3, "title": null}},
   "y": {"field": "signal", "type": "quantitative", "scale": {"domain": [0, 209500], "range": [812, 460], "nice": false, "zero": false},
     "axis": {"orient": "left", "offset": -73, "values": [0,100000,200000], "labelExpr": "datum.value == 0 ? '0' : datum.value == 100000 ? '1e5' : '2e5'", "tickSize": 6, "labelFontSize": 23, "labelPadding": 4, "title": "Abundance", "titleAngle": 0, "titleX": -51, "titleY": 447, "titleAlign": "left", "titleBaseline": "middle", "titleFontSize": 19, "titleFontWeight": "bold"}}
  }},
 {"data": {"name": "b_labels"}, "mark": {"type": "text", "align": "center", "baseline": "middle"},
  "encoding": {
   "x": {"field": "time", "type": "quantitative", "scale": {"domain": [10.227, 18.765], "range": [73, 791], "nice": false, "zero": false},
     "axis": {"orient": "bottom", "offset": -383, "values": [10.4,10.6,10.8,11.2,11.4,11.6,11.8,12.2,12.4,12.6,12.8,13.2,13.4,13.6,13.8,14.2,14.4,14.6,14.8,15.2,15.4,15.6,15.8,16.2,16.4,16.6,16.8,17.2,17.4,17.6,17.8,18.2,18.4,18.6], "labels": false, "domain": false, "tickSize": 5, "title": null}},
   "y": {"field": "signal", "type": "quantitative", "scale": {"domain": [0, 209500], "range": [812, 460], "nice": false, "zero": false},
     "axis": {"orient": "left", "offset": -73, "tickCount": 21, "labels": false, "domain": false, "tickSize": 4, "title": null}},
   "text": {"field": "label", "type": "nominal"}
  }},
 {"data": {"name": "b_leaders"}, "mark": {"type": "rule"},
  "encoding": {
   "x": {"field": "time", "type": "quantitative", "scale": {"domain": [10.227, 18.765], "range": [73, 791], "nice": false, "zero": false}, "axis": null},
   "y": {"field": "signal", "type": "quantitative", "scale": {"domain": [0, 209500], "range": [812, 460], "nice": false, "zero": false},
     "axis": {"orient": "left", "offset": -73, "tickCount": 84, "labels": false, "domain": false, "tickSize": 2.5, "title": null}},
   "x2": {"field": "time2"}, "y2": {"field": "signal2"}
  }},

 {"data": {"name": "c_trace"}, "mark": {"type": "line"},
  "encoding": {
   "x": {"field": "time", "type": "quantitative", "scale": {"domain": [12.1, 55.05], "range": [86, 747], "nice": false, "zero": false},
     "axis": {"orient": "bottom", "offset": -30, "values": [16,20,24,28,32,36,40,44,48,52], "labelExpr": "datum.value == 44 ? 'min' : datum.label", "tickSize": 6, "tickOpacity": {"condition": {"test": "datum.value == 44", "value": 0}, "value": 1}, "labelFontSize": 22, "labelPadding": 2, "title": null}},
   "y": {"field": "signal", "type": "quantitative", "scale": {"domain": [0, 60780], "range": [1165, 932], "nice": false, "zero": false},
     "axis": {"orient": "left", "offset": -86, "values": [0,30000,60000], "labelExpr": "datum.value == 0 ? '0' : datum.value == 30000 ? '3e4' : '6e4'", "tickSize": 6, "labelFontSize": 23, "labelPadding": 4, "title": "Abundance", "titleAngle": 0, "titleX": -54, "titleY": 907, "titleAlign": "left", "titleBaseline": "middle", "titleFontSize": 19, "titleFontWeight": "bold"}}
  }},
 {"data": {"name": "c_labels"}, "mark": {"type": "text", "align": "center", "baseline": "middle"},
  "encoding": {
   "x": {"field": "time", "type": "quantitative", "scale": {"domain": [12.1, 55.05], "range": [86, 747], "nice": false, "zero": false}, "axis": null},
   "y": {"field": "signal", "type": "quantitative", "scale": {"domain": [0, 60780], "range": [1165, 932], "nice": false, "zero": false},
     "axis": {"orient": "left", "offset": -86, "tickCount": 6, "labels": false, "domain": false, "tickSize": 4, "title": null}},
   "text": {"field": "label", "type": "nominal"}
  }},
 {"data": {"name": "c_leaders"}, "mark": {"type": "rule"},
  "encoding": {
   "x": {"field": "time", "type": "quantitative", "scale": {"domain": [12.1, 55.05], "range": [86, 747], "nice": false, "zero": false}, "axis": null},
   "y": {"field": "signal", "type": "quantitative", "scale": {"domain": [0, 60780], "range": [1165, 932], "nice": false, "zero": false},
     "axis": {"orient": "left", "offset": -86, "tickCount": 30, "labels": false, "domain": false, "tickSize": 2.5, "title": null}},
   "x2": {"field": "time2"}, "y2": {"field": "signal2"}
  }},
 {"data": {"name": "c_inset1"}, "mark": {"type": "line"},
  "encoding": {
   "x": {"field": "time", "type": "quantitative", "scale": {"domain": [16.22, 17.22], "range": [300, 426], "nice": false, "zero": false},
     "axis": {"orient": "bottom", "offset": -138, "values": [16.34, 17.03], "labels": false, "tickSize": 5, "title": "16.70 min", "titleAnchor": "end", "titleAlign": "right", "titleY": 20, "titleBaseline": "middle", "titleFontSize": 18, "titleFontWeight": "bold"}},
   "y": {"field": "signal", "type": "quantitative", "scale": {"domain": [116, 3930], "range": [1057, 975], "nice": false, "zero": false},
     "axis": {"orient": "left", "offset": -300, "values": [1000, 3000], "labelExpr": "datum.value == 1000 ? '1e3' : '3e3'", "tickSize": 4, "labelFontSize": 16, "labelFontWeight": "bold", "labelPadding": 4, "title": null}}
  }},
 {"data": {"name": "c_inset2"}, "mark": {"type": "line"},
  "encoding": {
   "x": {"field": "time", "type": "quantitative", "scale": {"domain": [50.62, 51.22], "range": [582, 762], "nice": false, "zero": false},
     "axis": {"orient": "bottom", "offset": -192, "values": [50.8, 51.0], "labels": false, "tickSize": 5, "title": "51.00 min", "titleAnchor": "end", "titleAlign": "right", "titleY": 18, "titleBaseline": "middle", "titleFontSize": 18, "titleFontWeight": "bold"}},
   "y": {"field": "signal", "type": "quantitative", "scale": {"domain": [3200, 6657], "range": [1003, 882], "nice": false, "zero": false},
     "axis": {"orient": "left", "offset": -582, "values": [4000, 5000, 6000], "labelExpr": "datum.value == 4000 ? '4e3' : datum.value == 5000 ? '5e3' : '6e3'", "tickSize": 4, "labelFontSize": 16, "labelFontWeight": "bold", "labelPadding": 4, "title": null}}
  }}
]
}
